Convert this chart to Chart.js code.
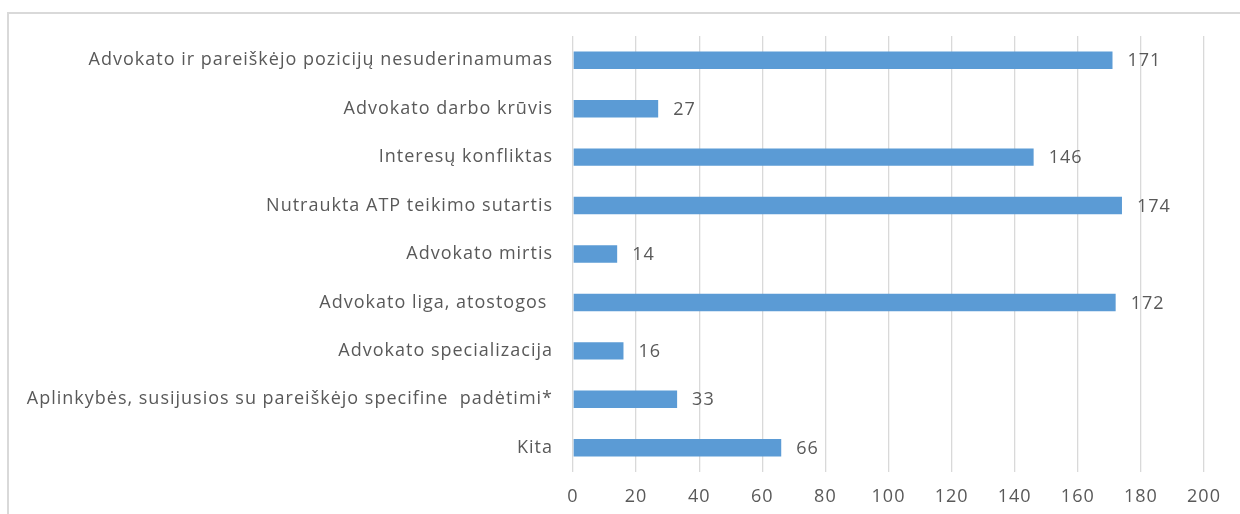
<!DOCTYPE html>
<html><head><meta charset="utf-8">
<script src="https://cdn.jsdelivr.net/npm/chart.js@4.4.1/dist/chart.umd.min.js"></script>
<style>
html,body{margin:0;padding:0;background:#fff;}
#wrap{position:relative;width:1240px;height:514px;overflow:hidden;}
#frame{position:absolute;left:7px;top:12px;width:1300px;height:600px;border:2px solid #d9d9d9;box-sizing:border-box;}
canvas{position:absolute;left:0;top:0;}
</style></head>
<body><div id="wrap"><div id="frame"></div><canvas id="c" width="1240" height="514"></canvas></div>
<script>
const categories = [
  "Advokato ir pareiškėjo pozicijų nesuderinamumas",
  "Advokato darbo krūvis",
  "Interesų konfliktas",
  "Nutraukta ATP teikimo sutartis",
  "Advokato mirtis",
  "Advokato liga, atostogos ",
  "Advokato specializacija",
  "Aplinkybės, susijusios su pareiškėjo specifine  padėtimi*",
  "Kita"
];
const values = [171, 27, 146, 174, 14, 172, 16, 33, 66];
const xMin = 0, xMax = 200, xStep = 20;

const FONT = "'Open Sans', sans-serif";
const TXT = "#595959";

const spacingPlugin = {
  id: 'spacing',
  beforeDraw(chart) { chart.ctx.letterSpacing = '1px'; }
};

const labelPlugin = {
  id: 'vlabels',
  afterDatasetsDraw(chart) {
    const ctx = chart.ctx;
    const meta = chart.getDatasetMeta(0);
    ctx.save();
    ctx.letterSpacing = '1px';
    ctx.font = "18px " + FONT;
    ctx.fillStyle = TXT;
    ctx.textAlign = 'left';
    ctx.textBaseline = 'middle';
    meta.data.forEach((bar, i) => {
      ctx.fillText(String(values[i]), bar.x + 15, bar.y + 1);
    });
    ctx.restore();
  }
};

new Chart(document.getElementById('c'), {
  type: 'bar',
  data: {
    labels: categories,
    datasets: [{
      data: values,
      backgroundColor: '#5b9bd5',
      borderWidth: 0,
      barPercentage: 0.36,
      categoryPercentage: 1.0
    }]
  },
  options: {
    indexAxis: 'y',
    responsive: false,
    animation: false,
    layout: { padding: { top: 36, right: 36, left: 0, bottom: 0 } },
    plugins: { legend: { display: false }, tooltip: { enabled: false } },
    scales: {
      x: {
        min: xMin, max: xMax,
        ticks: { stepSize: xStep, color: TXT, font: { family: FONT, size: 18 }, padding: 14 },
        grid: { color: '#d9d9d9', lineWidth: 1.3, drawTicks: false },
        border: { display: false },
        afterFit(s) { s.height = 42; }
      },
      y: {
        ticks: { color: TXT, font: { family: FONT, size: 18 }, padding: 20 },
        grid: { display: false, drawTicks: false },
        border: { display: false },
        afterFit(s) { s.width = 573; }
      }
    }
  },
  plugins: [spacingPlugin, labelPlugin]
});
</script></body></html>
